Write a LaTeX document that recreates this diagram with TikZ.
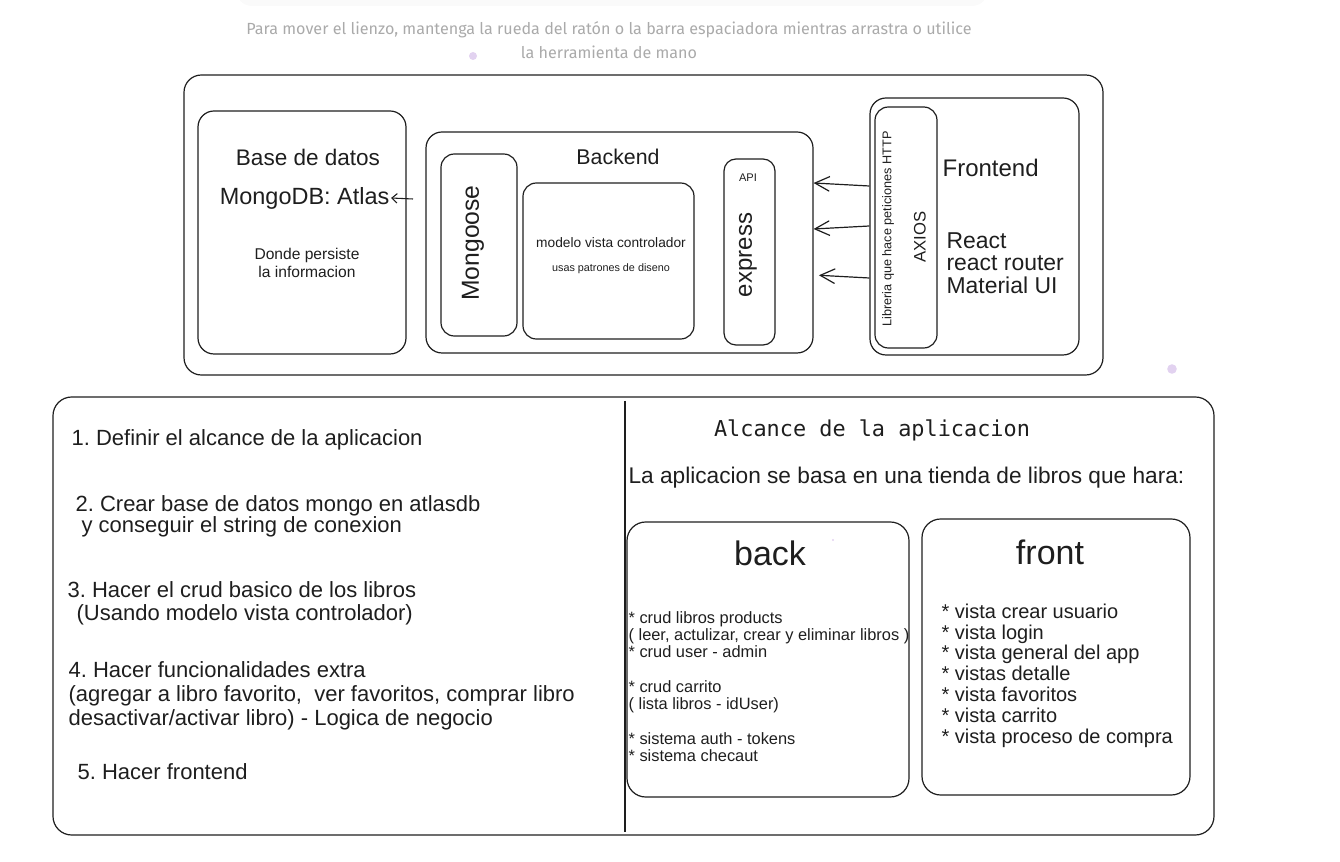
\documentclass[tikz,border=0pt]{standalone}
\usepackage{fontspec}
\setmainfont{Liberation Sans}
\newfontfamily\hintfont{Fira Sans}
\setmonofont{DejaVu Sans Mono}
\usetikzlibrary{arrows.meta,fit,positioning}
\frenchspacing
\definecolor{ink}{RGB}{30,30,30}
\definecolor{hintgray}{RGB}{170,170,170}
\definecolor{dotpurple}{RGB}{226,210,240}
\newcommand\fs[2]{\fontsize{#1pt}{#2pt}\selectfont}
\tikzset{
  box/.style={draw=ink, line width=0.9pt, rounded corners=#1, inner sep=0pt},
  box/.default=10pt,
  lbl/.style={text=ink, inner sep=1pt},
  arr/.style={draw=ink, line width=0.9pt, -{Straight Barb[length=11pt,width=11pt]}},
  arrsmall/.style={draw=ink, line width=0.8pt, -{Straight Barb[length=4pt,width=7pt]}},
}

\begin{document}
\begin{tikzpicture}[x=0.75pt,y=-0.75pt]
\useasboundingbox (0,0) rectangle (1340,862);

% canvas hint
\fill[black!2, rounded corners=12pt] (236,-20) rectangle (988,6);
\node[text=hintgray, font=\hintfont\fs{12.1}{18}, align=center] (hint) at (609,40)
  {Para mover el lienzo, mantenga la rueda del ratón o la barra espaciadora mientras arrastra o utilice\\la herramienta de mano};
\fill[dotpurple] (473,56) circle[radius=3pt];
\fill[dotpurple] (1172,369) circle[radius=3.6pt];

% architecture
\node[box=13pt, fit={(184,75) (1103,375)}] (arch) {};

\node[box=12pt, fit={(198,111) (406,354)}] (db) {};
\node[lbl, font=\fs{16.9}{20}] (dbtitle) at (308,157) {Base de datos};
\node[lbl, font=\fs{17.6}{20}, anchor=east] (atlas) at (391,198) {MongoDB: Atlas};
\node[lbl, font=\fs{11.7}{13.5}, align=center] (dbnote) at (307,263) {Donde persiste\\la informacion};
\coordinate (atlasin) at (413,199);
\draw[arrsmall] (atlasin) -- (atlas.east);

\node[box=12pt, fit={(426,132) (813,353)}] (backend) {};
\node[lbl, font=\fs{16}{20}] (betitle) at (618,157) {Backend};
\node[box=10pt, fit={(441,154) (517,336)}] (mongoose) {};
\node[lbl, font=\fs{18.5}{20}, rotate=90] (mongoosetext) at (473,243) {Mongoose};
\node[box=10pt, fit={(523,183) (694,339)}] (mvc) {};
\node[lbl, font=\fs{10.3}{12}] (mvctext) at (611,243) {modelo vista controlador};
\node[lbl, font=\fs{8.1}{10}] (mvcnote) at (611,269) {usas patrones de diseno};
\node[box=9pt, fit={(724,159) (775,345)}] (api) {};
\node[lbl, font=\fs{8.3}{10}] (apititle) at (748,178) {API};
\node[lbl, font=\fs{18}{20}, rotate=90] (express) at (748,255) {express};

\node[box=12pt, fit={(870,98) (1079,355)}] (frontend) {};
\node[box=10pt, fit={(875,107) (937,348)}] (axios) {};
\node[lbl, font=\fs{9.5}{11}, rotate=90] (axiosnote) at (888,229) {Libreria que hace peticiones HTTP};
\node[lbl, font=\fs{12.5}{14}, rotate=90] (axiostitle) at (920,237) {AXIOS};
\node[lbl, font=\fs{18}{20}, anchor=west] (fetitle) at (941,168) {Frontend};
\node[lbl, font=\fs{17.2}{16.9}, anchor=west, align=left] (festack) at (945,263) {React\\react router\\Material UI};

\draw[arr] (frontend.west |- 0,186) -- (backend.east |- 0,183);
\draw[arr] (frontend.west |- 0,226) -- (backend.east |- 0,229);
\draw[arr, shorten >=4pt] (frontend.west |- 0,278) -- (backend.east |- 0,275);

% plan
\node[box=14pt, fit={(53,397) (1214,835)}] (plan) {};
\draw[draw=ink, line width=0.9pt] (625,401) -- (625,832);

\node[lbl, font=\fs{16.5}{17}, anchor=west] (step1) at (70,440) {1. Definir el alcance de la aplicacion};
\node[lbl, font=\fs{16.5}{15.75}, anchor=west, align=left] (step2) at (74,516.5)
  {2. Crear base de datos mongo en atlasdb\\\hspace*{4.5pt}y conseguir el string de conexion};
\node[lbl, font=\fs{16.5}{17.25}, anchor=west, align=left] (step3) at (66,603.5)
  {3. Hacer el crud basico de los libros\\\hspace*{6.75pt}(Usando modelo vista controlador)};
\node[lbl, font=\fs{16.5}{18}, anchor=west, align=left] (step4) at (67,696)
  {4. Hacer funcionalidades extra\\(agregar a libro favorito,\ \ ver favoritos, comprar libro\\desactivar/activar libro) - Logica de negocio};
\node[lbl, font=\fs{16.5}{17}, anchor=west] (step5) at (76,772) {5. Hacer frontend};

\node[lbl, font=\ttfamily\fs{16.4}{18}] (scopetitle) at (872,430) {Alcance de la aplicacion};
\node[lbl, font=\fs{17}{20}, anchor=west] (scopeintro) at (627,478) {La aplicacion se basa en una tienda de libros que hara:};

\node[box=14pt, fit={(627,522) (909,797)}] (backscope) {};
\node[lbl, font=\fs{25.5}{28}] (backtitle) at (770,553) {back};
\fill[dotpurple] (833,540) circle[radius=0.8pt];
\node[lbl, font=\fs{12.3}{13}, anchor=west, align=left] (backlist) at (627,686.5)
  {{*} crud libros products\\( leer, actulizar, crear y eliminar libros )\\{*} crud user - admin\\[13pt]{*} crud carrito\\( lista libros - idUser)\\[13pt]{*} sistema auth - tokens\\{*} sistema checaut};

\node[box=14pt, fit={(922,519) (1190,795)}] (frontscope) {};
\node[lbl, font=\fs{25.5}{28}] (fronttitle) at (1050,552) {front};
\node[lbl, font=\fs{15}{15.6}, anchor=west, align=left] (frontlist) at (940,675.5)
  {{*} vista crear usuario\\{*} vista login\\{*} vista general del app\\{*} vistas detalle\\{*} vista favoritos\\{*} vista carrito\\{*} vista proceso de compra};

\end{tikzpicture}
\end{document}
